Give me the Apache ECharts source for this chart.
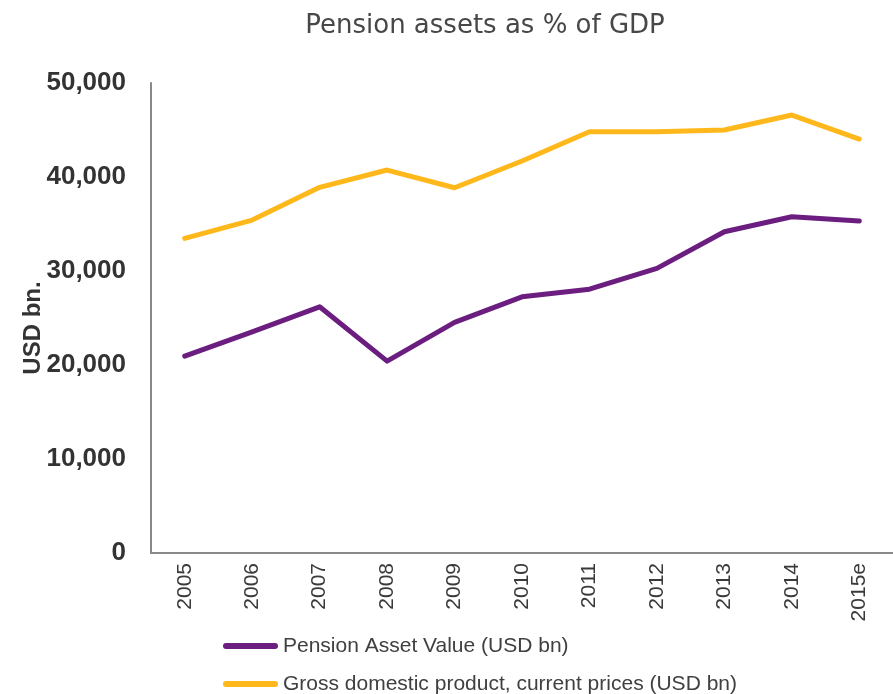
<!DOCTYPE html>
<html>
<head>
<meta charset="utf-8">
<title>Pension assets as % of GDP</title>
<script src="https://cdn.jsdelivr.net/npm/echarts@6/dist/echarts.min.js"></script>
<style>
  html, body { margin: 0; padding: 0; background: #fff; }
  #chart { width: 893px; height: 694px; }
</style>
</head>
<body>
<div id="chart"></div>
<script>
const years = ['2005', '2006', '2007', '2008', '2009', '2010', '2011', '2012', '2013', '2014', '2015e'];
const pensionAssets = [20940, 23530, 26190, 20410, 24530, 27250, 28070, 30280, 34170, 35770, 35310];
const gdp = [33470, 35420, 38900, 40740, 38860, 41700, 44820, 44820, 45000, 46590, 44040];
const yTicks = [0, 10000, 20000, 30000, 40000, 50000];
const seriesNames = ['Pension Asset Value (USD bn)', 'Gross domestic product, current prices (USD bn)'];

const purple = '#6b1e80';
const orange = '#ffb81c';

let chart = echarts.init(document.getElementById('chart'), null, { renderer: 'canvas' });

// one legend per row, stacked
function legendRow(name, top) {
  return {
    orient: 'vertical',
    left: 218,
    top: top,
    itemWidth: 55,
    itemHeight: 6,
    icon: 'path://M3,0 L52,0 A3,3 0 0 1 52,6 L3,6 A3,3 0 0 1 3,0 Z',
    textStyle: {
      fontFamily: 'Liberation Sans',
      fontSize: 21,
      lineHeight: 24,
      color: '#404040',
    },
    data: [name],
  };
}

let option = {
  animation: false,
  title: {
    text: 'Pension assets as % of GDP',
    left: 480,
    textAlign: 'center',
    top: 8,
    textStyle: {
      fontFamily: 'DejaVu Sans',
      fontSize: 26,
      fontWeight: 'normal',
      color: '#474747',
    },
  },
  legend: [legendRow(seriesNames[0], 629), legendRow(seriesNames[1], 667)],
  grid: {
    left: 151,
    right: -13,
    top: 83,
    bottom: 141,
  },
  xAxis: {
    type: 'category',
    data: years,
    boundaryGap: true,
    axisLine: { show: true, lineStyle: { color: '#898989', width: 2 } },
    axisTick: { show: false },
    axisLabel: {
      rotate: 90,
      margin: 10,
      interval: 0,
      fontFamily: 'Liberation Sans',
      fontSize: 21,
      color: '#3a3a3a',
    },
    splitLine: { show: false },
  },
  yAxis: {
    type: 'value',
    min: yTicks[0],
    max: yTicks[yTicks.length - 1],
    interval: 10000,
    name: 'USD bn.',
    nameLocation: 'middle',
    nameGap: 106,
    nameRotate: 90,
    nameMoveOverlap: false,
    nameTextStyle: {
      fontFamily: 'Liberation Sans',
      fontSize: 24,
      fontWeight: 'bold',
      color: '#333',
      padding: [0, 20, 0, 0],
    },
    axisLine: { show: true, lineStyle: { color: '#898989', width: 2 } },
    axisTick: { show: false },
    splitLine: { show: false },
    axisLabel: {
      margin: 25,
      fontFamily: 'Liberation Sans',
      fontSize: 26,
      fontWeight: 'bold',
      color: '#333',
      formatter: v => v.toLocaleString('en-US'),
    },
  },
  series: [
    {
      name: seriesNames[0],
      type: 'line',
      data: pensionAssets,
      showSymbol: false,
      symbol: 'none',
      itemStyle: { color: purple },
      lineStyle: { color: purple, width: 5, cap: 'round', join: 'round' },
    },
    {
      name: seriesNames[1],
      type: 'line',
      data: gdp,
      showSymbol: false,
      symbol: 'none',
      itemStyle: { color: orange },
      lineStyle: { color: orange, width: 5, cap: 'round', join: 'round' },
    },
  ],
};

chart.setOption(option);
</script>
</body>
</html>
